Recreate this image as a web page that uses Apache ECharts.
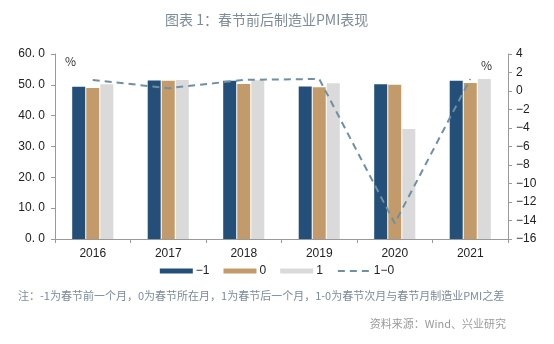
<!DOCTYPE html>
<html><head><meta charset="utf-8">
<script src="https://cdn.jsdelivr.net/npm/echarts@6/dist/echarts.min.js"></script>
<style>html,body{margin:0;padding:0;background:#fff}#c{width:554px;height:344px}</style>
</head><body><div id="c"></div>
<script>
var categories = ['2016','2017','2018','2019','2020','2021'];
var before = [49.4, 51.4, 51.3, 49.5, 50.2, 51.3];
var during = [49.0, 51.3, 50.3, 49.2, 50.0, 50.6];
var after  = [50.2, 51.6, 51.5, 50.5, 35.7, 51.9];
var diff   = [1.2, 0.3, 1.2, 1.3, -14.3, 1.3];
var seriesNames = ['-1', '0', '1', '1-0'];
var titleText = '图表 1：春节前后制造业PMI表现';
var noteText = '注：-1为春节前一个月，0为春节所在月，1为春节后一个月，1-0为春节次月与春节月制造业PMI之差';
var sourceText = '资料来源：Wind、兴业研究';

var font = '"Noto Sans CJK SC", "Noto Sans", sans-serif';
var chart = echarts.init(document.getElementById('c'), null, {renderer:'canvas'});
var axisTxt = {color:'#222', fontSize:12, fontFamily:'"Liberation Sans", Arial, sans-serif'};
chart.setOption({
  animation:false,
  title:{text:titleText, left:160, top:8, textStyle:{color:'#7e8b98', fontSize:14, fontWeight:'normal', fontFamily:font}},
  grid:{left:55, right:46, top:54, bottom:105},
  legend:{
    bottom:62, left:'center', itemWidth:33, itemHeight:5, itemGap:14,
    textStyle:{color:'#222', fontSize:12, fontFamily:'"Liberation Sans", Arial, sans-serif', padding:[0,0,0,-2]},
    formatter:function(n){return n.replace(/-/g,'\u2212');},
    data:[{name:'-1',icon:'rect'},{name:'0',icon:'rect'},{name:'1',icon:'rect'},{name:'1-0', itemStyle:{opacity:0}}]
  },
  graphic:[
    {type:'text', left:65, top:55, style:{text:'%', fill:'#333', font:'12px '+font}},
    {type:'text', left:481, top:59, style:{text:'%', fill:'#333', font:'12px '+font}},
    {type:'text', left:18, top:290, style:{text:noteText, fill:'#7b8a99', font:'11px '+font}},
    {type:'text', right:48, top:318, style:{text:sourceText, fill:'#9a9a9a', font:'11px '+font}}
  ],
  xAxis:{type:'category', data:categories,
    axisLine:{lineStyle:{color:'#999'}}, axisTick:{show:true, length:4, lineStyle:{color:'#999'}},
    axisLabel:Object.assign({margin:9}, axisTxt)},
  yAxis:[
    {type:'value', min:0, max:60, interval:10, splitLine:{show:false},
     axisLine:{show:true, lineStyle:{color:'#999'}}, axisTick:{show:true, length:4, lineStyle:{color:'#999'}},
     axisLabel:Object.assign({margin:10, formatter:function(v){return v.toFixed(1).replace('.', '. ');}}, axisTxt)},
    {type:'value', min:-16, max:4, interval:2, splitLine:{show:false},
     axisLine:{show:true, lineStyle:{color:'#999'}}, axisTick:{show:true, length:4, lineStyle:{color:'#999'}},
     axisLabel:Object.assign({margin:8, formatter:function(v){return String(v).replace('-', '\u2212');}}, axisTxt)}
  ],
  series:[
    {name:seriesNames[0], type:'bar', data:before, barWidth:13, barGap:'8%', itemStyle:{color:'#234f78'}},
    {name:seriesNames[1], type:'bar', data:during, barWidth:13, barGap:'8%', itemStyle:{color:'#c39b6a'}},
    {name:seriesNames[2], type:'bar', data:after, barWidth:13, barGap:'8%', itemStyle:{color:'#dadada'}},
    {name:seriesNames[3], type:'line', yAxisIndex:1, data:diff, symbol:'none', z:5,
     lineStyle:{color:'#6f8fa3', width:2, type:[7,5]}, itemStyle:{color:'#6f8fa3'}}
  ]
});
</script></body></html>
